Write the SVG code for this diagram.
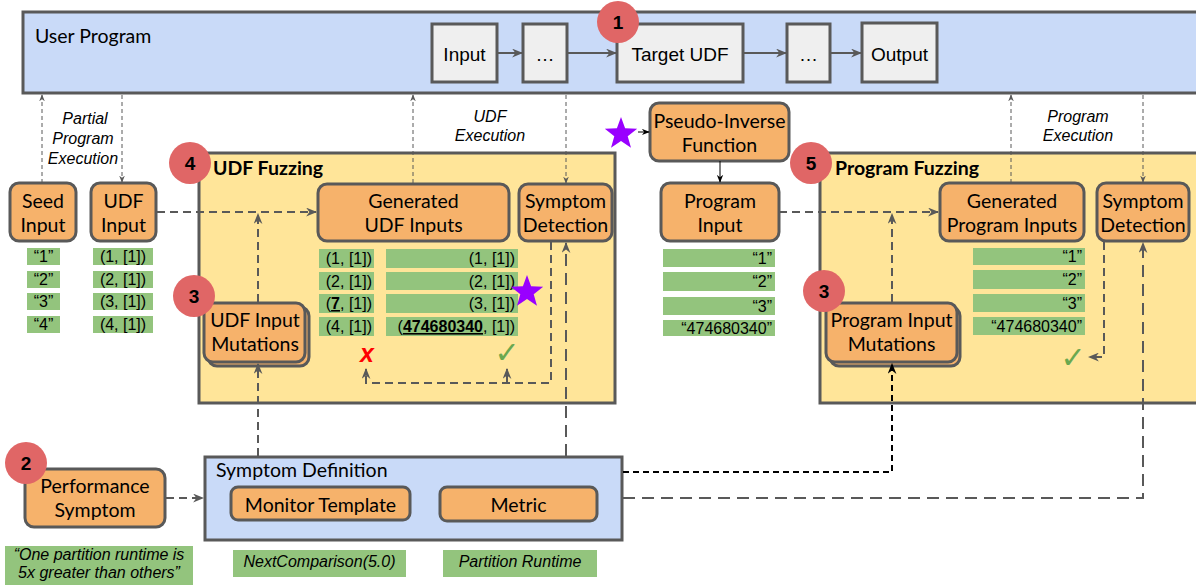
<svg xmlns="http://www.w3.org/2000/svg" width="1196" height="585" viewBox="0 0 1196 585">
<style>
.bx{fill:#f6b26b;stroke:#595959;stroke-width:3}
.blue{fill:#c9daf8;stroke:#595959;stroke-width:3}
.yel{fill:#ffe599;stroke:#595959;stroke-width:3}
.gry{fill:#efefef;stroke:#595959;stroke-width:3}
.g{fill:#93c47d}
.badge{fill:#e06666}
.lb{font-family:Lato,"Open Sans",sans-serif;font-size:19.5px;fill:#000}
.hd{font-family:Lato,"Open Sans",sans-serif;font-size:19.5px;font-weight:bold;fill:#000}
.ar{font-family:"Liberation Sans",Arial,sans-serif;font-size:19px;fill:#000}
.sm{font-family:"Liberation Sans",Arial,sans-serif;font-size:16px;fill:#000}
.it{font-family:"Liberation Sans",Arial,sans-serif;font-size:16px;font-style:italic;fill:#000}
.num{font-family:"Liberation Sans",Arial,sans-serif;font-size:19px;font-weight:bold;fill:#000;text-anchor:middle}
.chk{font-family:"DejaVu Sans",sans-serif;font-size:30px;font-weight:bold;font-style:italic;fill:#6aa84f;text-anchor:middle}
.c{text-anchor:middle}
.e{text-anchor:end}
.thin{fill:none;stroke:#595959;stroke-width:1;stroke-dasharray:4 3}
.dg{fill:none;stroke:#595959;stroke-width:2;stroke-dasharray:8 5}
.dl{fill:none;stroke:#595959;stroke-width:2;stroke-dasharray:12 7}
.db{fill:none;stroke:#000;stroke-width:2;stroke-dasharray:6 4}
.sol{fill:none;stroke:#595959;stroke-width:2}
.blk{fill:none;stroke:#000;stroke-width:1}
</style>
<defs>
<marker id="ag" viewBox="0 0 10 8" refX="9" refY="4" markerWidth="11" markerHeight="9" markerUnits="userSpaceOnUse" orient="auto"><path d="M0,0 L10,4 L0,8 L3,4z" fill="#595959"/></marker>
<marker id="as" viewBox="0 0 10 8" refX="9" refY="4" markerWidth="7" markerHeight="6" markerUnits="userSpaceOnUse" orient="auto"><path d="M0,0 L10,4 L0,8 L3,4z" fill="#595959"/></marker>
<marker id="ab" viewBox="0 0 10 8" refX="9" refY="4" markerWidth="11" markerHeight="9" markerUnits="userSpaceOnUse" orient="auto"><path d="M0,0 L10,4 L0,8 L3,4z" fill="#000"/></marker>
<marker id="abs" viewBox="0 0 10 8" refX="9" refY="4" markerWidth="8" markerHeight="7" markerUnits="userSpaceOnUse" orient="auto"><path d="M0,0 L10,4 L0,8 L3,4z" fill="#000"/></marker>
<path id="star" d="M0,-17 L4.1,-5.7 L16.2,-5.3 L6.7,2.2 L10,13.8 L0,7 L-10,13.8 L-6.7,2.2 L-16.2,-5.3 L-4.1,-5.7Z" fill="#9900ff"/>
</defs>

<g id="user-program">
<rect class="blue" x="23" y="12" width="1190" height="81"/>
<text class="lb" x="35" y="43">User Program</text>
</g>
<g id="input"><rect class="gry" x="432" y="24" width="65" height="58"/><text class="ar c" x="464.5" y="61">Input</text></g>
<g id="dots1"><rect class="gry" x="523" y="24" width="44" height="58"/><text class="ar c" x="545" y="61">…</text></g>
<g id="target-udf"><rect class="gry" x="617" y="24" width="126" height="58"/><text class="ar c" x="680" y="61">Target UDF</text></g>
<g id="dots2"><rect class="gry" x="787" y="24" width="43" height="58"/><text class="ar c" x="808.5" y="61">…</text></g>
<g id="output"><rect class="gry" x="862" y="23" width="75" height="59"/><text class="ar c" x="899.5" y="61">Output</text></g>
<g id="badge1"><circle class="badge" cx="618" cy="22" r="21"/><text class="num" x="618" y="29">1</text></g>

<g id="udf-fuzzing">
<rect class="yel" x="199" y="153" width="416" height="250"/>
<text class="hd" x="213" y="175">UDF Fuzzing</text>
</g>
<g id="program-fuzzing">
<rect class="yel" x="820" y="153" width="400" height="250"/>
<text class="hd" x="835" y="175">Program Fuzzing</text>
</g>
<g id="badge4"><circle class="badge" cx="190" cy="163" r="21"/><text class="num" x="190" y="170">4</text></g>
<g id="badge5"><circle class="badge" cx="811" cy="163" r="21"/><text class="num" x="811" y="170">5</text></g>

<g id="seed-input">
<rect class="bx" x="10" y="183" width="66" height="58" rx="9"/>
<text class="lb c" x="43" y="208">Seed</text><text class="lb c" x="43" y="232">Input</text>
<rect class="g" x="27" y="248" width="33" height="17"/><text class="sm c" x="43.5" y="262">“1”</text>
<rect class="g" x="27" y="271" width="33" height="17"/><text class="sm c" x="43.5" y="285">“2”</text>
<rect class="g" x="27" y="293" width="33" height="17"/><text class="sm c" x="43.5" y="307">“3”</text>
<rect class="g" x="27" y="316" width="33" height="17"/><text class="sm c" x="43.5" y="330">“4”</text>
</g>
<g id="udf-input">
<rect class="bx" x="91" y="183" width="65" height="58" rx="9"/>
<text class="lb c" x="123.5" y="208">UDF</text><text class="lb c" x="123.5" y="232">Input</text>
<rect class="g" x="93" y="248" width="60" height="17"/><text class="sm c" x="123" y="262">(1, [1])</text>
<rect class="g" x="93" y="271" width="60" height="17"/><text class="sm c" x="123" y="285">(2, [1])</text>
<rect class="g" x="93" y="293" width="60" height="17"/><text class="sm c" x="123" y="307">(3, [1])</text>
<rect class="g" x="93" y="316" width="60" height="17"/><text class="sm c" x="123" y="330">(4, [1])</text>
</g>

<g id="udf-input-mutations">
<rect class="bx" x="208" y="307" width="101" height="59" rx="9"/>
<rect class="bx" x="204" y="303" width="101" height="59" rx="9"/>
<text class="lb c" x="255" y="327">UDF Input</text><text class="lb c" x="255" y="351">Mutations</text>
</g>
<g id="badge3a"><circle class="badge" cx="194" cy="296" r="21"/><text class="num" x="194" y="303">3</text></g>

<g id="generated-udf-inputs">
<rect class="bx" x="318" y="184" width="191" height="57" rx="9"/>
<text class="lb c" x="413.5" y="208">Generated</text><text class="lb c" x="413.5" y="232">UDF Inputs</text>
<rect class="g" x="319" y="249" width="55" height="19"/><text class="sm e" x="372" y="264">(1, [1])</text>
<rect class="g" x="319" y="272" width="55" height="18"/><text class="sm e" x="372" y="287">(2, [1])</text>
<rect class="g" x="319" y="294" width="55" height="19"/><text class="sm e" x="372" y="309">(<tspan font-weight="bold" text-decoration="underline">7</tspan>, [1])</text>
<rect class="g" x="319" y="317" width="55" height="19"/><text class="sm e" x="372" y="332">(4, [1])</text>
<rect class="g" x="386" y="249" width="132" height="19"/><text class="sm e" x="515" y="264">(1, [1])</text>
<rect class="g" x="386" y="272" width="132" height="18"/><text class="sm e" x="515" y="287">(2, [1])</text>
<rect class="g" x="386" y="294" width="132" height="19"/><text class="sm e" x="515" y="309">(3, [1])</text>
<rect class="g" x="386" y="317" width="132" height="19"/><text class="sm e" x="515" y="332">(<tspan font-weight="bold" text-decoration="underline">474680340</tspan>, [1])</text>
<use href="#star" x="527" y="292"/>
<text x="367" y="362" text-anchor="middle" font-family="Liberation Sans,Arial,sans-serif" font-size="25" font-weight="bold" font-style="italic" fill="#ff0000">x</text>
<text class="chk" x="507" y="363">✓</text>
</g>
<g id="symptom-detection-udf">
<rect class="bx" x="519" y="184" width="93" height="57" rx="9"/>
<text class="lb c" x="565.5" y="208">Symptom</text><text class="lb c" x="565.5" y="232">Detection</text>
</g>

<g id="pseudo-inverse">
<use href="#star" x="621" y="134"/>
<rect class="bx" x="650" y="103" width="139" height="58" rx="9"/>
<text class="lb c" x="719.5" y="128">Pseudo-Inverse</text><text class="lb c" x="719.5" y="152">Function</text>
</g>
<g id="program-input">
<rect class="bx" x="661" y="183" width="118" height="58" rx="9"/>
<text class="lb c" x="720" y="208">Program</text><text class="lb c" x="720" y="232">Input</text>
<rect class="g" x="663" y="249" width="112" height="18"/><text class="sm e" x="772" y="264">“1”</text>
<rect class="g" x="663" y="272" width="112" height="19"/><text class="sm e" x="772" y="287">“2”</text>
<rect class="g" x="663" y="297" width="112" height="18"/><text class="sm e" x="772" y="312">“3”</text>
<rect class="g" x="663" y="320" width="112" height="16"/><text class="sm e" x="772" y="334">“474680340”</text>
</g>

<g id="program-input-mutations">
<rect class="bx" x="830" y="307" width="130" height="59" rx="9"/>
<rect class="bx" x="826" y="303" width="131" height="59" rx="9"/>
<text class="lb c" x="891.5" y="327">Program Input</text><text class="lb c" x="891.5" y="351">Mutations</text>
</g>
<g id="badge3b"><circle class="badge" cx="824" cy="291" r="21"/><text class="num" x="824" y="298">3</text></g>

<g id="generated-program-inputs">
<rect class="bx" x="940" y="183" width="144" height="58" rx="9"/>
<text class="lb c" x="1012" y="208">Generated</text><text class="lb c" x="1012" y="232">Program Inputs</text>
<rect class="g" x="973" y="248" width="112" height="17"/><text class="sm e" x="1082" y="262">“1”</text>
<rect class="g" x="973" y="270" width="112" height="19"/><text class="sm e" x="1082" y="285">“2”</text>
<rect class="g" x="973" y="294" width="112" height="18"/><text class="sm e" x="1082" y="309">“3”</text>
<rect class="g" x="973" y="317" width="112" height="18"/><text class="sm e" x="1082" y="332">“474680340”</text>
<text class="chk" x="1073" y="368">✓</text>
</g>
<g id="symptom-detection-program">
<rect class="bx" x="1097" y="183" width="92" height="58" rx="9"/>
<text class="lb c" x="1143" y="208">Symptom</text><text class="lb c" x="1143" y="232">Detection</text>
</g>

<g id="performance-symptom">
<rect class="bx" x="25" y="469" width="140" height="58" rx="9"/>
<text class="lb c" x="95" y="493">Performance</text><text class="lb c" x="95" y="517">Symptom</text>
<rect class="g" x="5" y="546" width="188" height="39"/>
<text class="it c" x="99" y="560" font-size="16.5">“One partition runtime is</text>
<text class="it c" x="99" y="578" font-size="16.5">5x greater than others”</text>
</g>
<g id="badge2"><circle class="badge" cx="26" cy="463" r="21"/><text class="num" x="26" y="470">2</text></g>

<g id="symptom-definition">
<rect class="blue" x="205" y="457" width="417" height="83"/>
<text class="lb" x="216" y="477">Symptom Definition</text>
<rect class="bx" x="231" y="487" width="179" height="33" rx="7"/>
<text class="lb c" x="320.5" y="512">Monitor Template</text>
<rect class="bx" x="440" y="487" width="157" height="34" rx="7"/>
<text class="lb c" x="518.5" y="512">Metric</text>
<rect class="g" x="233" y="550" width="173" height="27"/>
<text class="it c" x="319.5" y="567">NextComparison(5.0)</text>
<rect class="g" x="443" y="550" width="154" height="27"/>
<text class="it c" x="520" y="567">Partition Runtime</text>
</g>

<g id="labels">
<text class="it c" x="85" y="124">Partial</text>
<text class="it c" x="83" y="144">Program</text>
<text class="it c" x="83" y="164">Execution</text>
<text class="it c" x="490" y="122">UDF</text>
<text class="it c" x="490" y="141">Execution</text>
<text class="it c" x="1078" y="122">Program</text>
<text class="it c" x="1078" y="141">Execution</text>
</g>

<g id="connectors">
<line class="sol" x1="497" y1="53" x2="522" y2="53" marker-end="url(#ag)"/>
<line class="sol" x1="567" y1="53" x2="616" y2="53" marker-end="url(#ag)"/>
<line class="sol" x1="743" y1="53" x2="786" y2="53" marker-end="url(#ag)"/>
<line class="sol" x1="830" y1="53" x2="861" y2="53" marker-end="url(#ag)"/>
<line class="thin" x1="42" y1="183" x2="42" y2="95" marker-end="url(#as)"/>
<line class="thin" x1="122" y1="95" x2="122" y2="182" marker-end="url(#as)"/>
<line class="thin" x1="413" y1="183" x2="413" y2="95" marker-end="url(#as)"/>
<line class="thin" x1="566" y1="95" x2="566" y2="183" marker-end="url(#as)"/>
<line class="thin" x1="1011" y1="183" x2="1011" y2="95" marker-end="url(#as)"/>
<line class="thin" x1="1143" y1="95" x2="1143" y2="182" marker-end="url(#as)"/>
<line class="blk" x1="638" y1="132" x2="649" y2="132" marker-end="url(#abs)"/>
<line class="blk" x1="720" y1="161" x2="720" y2="182" marker-end="url(#abs)"/>
<line class="dg" x1="157" y1="212" x2="316" y2="212" marker-end="url(#ag)"/>
<line class="dg" x1="258" y1="302" x2="258" y2="214" marker-end="url(#ag)"/>
<line class="dg" x1="258" y1="456" x2="258" y2="364" marker-end="url(#ag)"/>
<path class="dg" d="M551,242 V383 H366 V369" marker-end="url(#ag)"/>
<path class="dg" d="M507,383 V369" marker-end="url(#ag)"/>
<line class="dl" x1="566" y1="456" x2="566" y2="243" marker-end="url(#ag)"/>
<line class="dg" x1="779" y1="212" x2="938" y2="212" marker-end="url(#ag)"/>
<line class="dg" x1="892" y1="302" x2="892" y2="214" marker-end="url(#ag)"/>
<path class="db" d="M623,472 H892 V364" marker-end="url(#ab)"/>
<path class="dl" d="M623,498 H1143 V243" marker-end="url(#ag)"/>
<path class="dg" d="M1104,242 V357 H1089" marker-end="url(#ag)"/>
<line class="dg" x1="166" y1="498" x2="203" y2="498" marker-end="url(#ag)"/>
</g>
</svg>
